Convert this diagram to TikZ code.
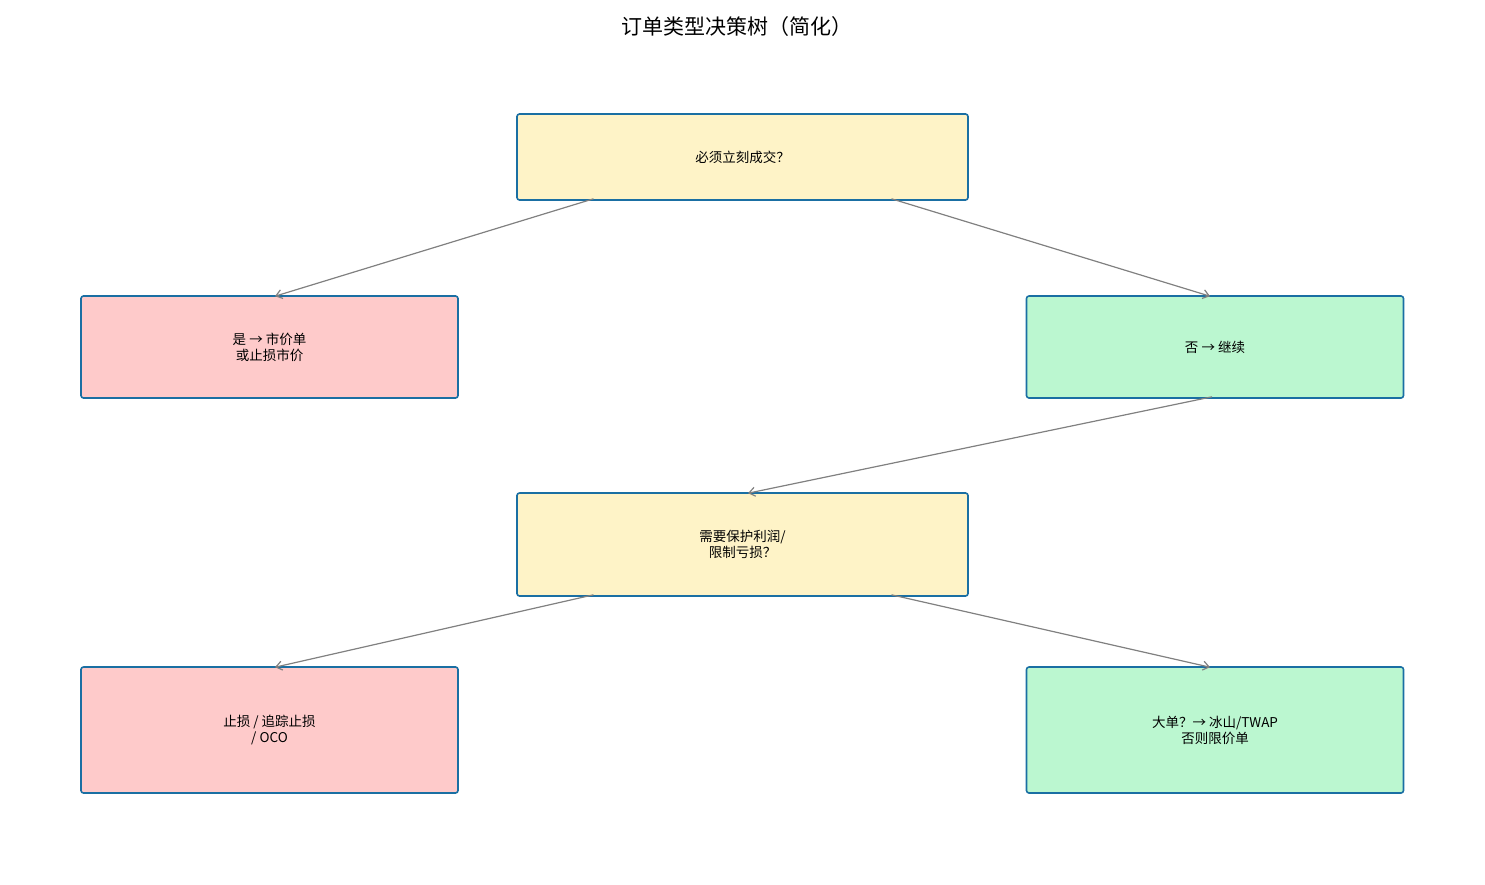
\documentclass[tikz,border=0pt]{standalone}
\usepackage{fontspec}
\setmainfont{Noto Sans CJK SC}
\usetikzlibrary{calc,arrows.meta}
\definecolor{yel}{HTML}{FEF3C7}
\definecolor{red}{HTML}{FECACA}
\definecolor{grn}{HTML}{BBF7D0}
\definecolor{bd}{HTML}{1A6FA3}
\begin{document}
\begin{tikzpicture}[x=1pt,y=-1pt,
 box/.style={draw=bd,line width=1.6pt,rounded corners=2.5pt,minimum width=451pt,align=center,font=\fontsize{13.5}{16}\selectfont,inner sep=0pt},
 sbox/.style={box,minimum width=377pt},
 arr/.style={draw=gray,line width=1.2pt,-{Straight Barb[length=6pt,width=9pt]}}]
\useasboundingbox (0,0) rectangle (1485,884);
\node[font=\fontsize{21}{24}\selectfont] (title) at (737,27) {订单类型决策树（简化）};
\node[box,fill=yel,minimum height=86pt] (q1) at (742.5,157) {必须立刻成交？};
\node[sbox,fill=red,minimum height=102pt] (yes1) at (269.5,347) {是 → 市价单\\或止损市价};
\node[sbox,fill=grn,minimum height=102pt] (no1) at (1215,347) {否 → 继续};
\node[box,fill=yel,minimum height=103pt] (q2) at (742.5,544.5) {需要保护利润/\\限制亏损？};
\node[sbox,fill=red,minimum height=126pt] (yes2) at (269.5,730) {止损 / 追踪止损\\/ OCO};
\node[sbox,fill=grn,minimum height=126pt] (no2) at (1215,730) {大单？→ 冰山/TWAP\\否则限价单};
\draw[arr] ($(q1.south)+(-149,-2)$) -- ($(yes1.north)+(5.5,1)$);
\draw[arr] ($(q1.south)+(149,-2)$) -- ($(no1.north)+(-5,1)$);
\draw[arr] ($(no1.south)+(-3,-2)$) -- ($(q2.north)+(5.5,1)$);
\draw[arr] ($(q2.south)+(-149,-2)$) -- ($(yes2.north)+(5.5,1)$);
\draw[arr] ($(q2.south)+(149,-2)$) -- ($(no2.north)+(-5,1)$);
\end{tikzpicture}
\end{document}
